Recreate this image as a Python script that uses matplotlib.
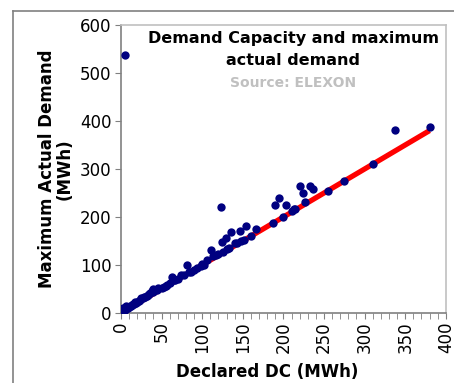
import matplotlib
matplotlib.use("Agg")
import matplotlib.pyplot as plt
from matplotlib.lines import Line2D

# declared DC vs maximum actual demand (MWh)
declared_dc = [5, 380, 338, 310, 275, 255, 236, 233, 227, 224, 221, 213, 210,
               203, 200, 195, 190, 187, 166, 160, 154, 148, 146, 140, 136, 133,
               129, 126, 124, 123, 117, 113, 111, 106, 102, 98, 94, 90, 86, 81,
               78, 74, 70, 65, 63, 60, 55, 50, 46, 42, 40, 38, 35, 32, 30, 27,
               24, 22, 20, 18, 15, 12, 10, 8, 6, 5, 3, 2, 1, 0, 0, 36, 44, 28,
               16, 13, 9, 4, 57, 53, 67, 84, 100, 120, 131, 143, 151, 214,
               25, 33, 39, 17, 11, 7, 2, 1]
max_demand = [537, 387, 381, 311, 276, 255, 259, 265, 232, 249, 265, 217, 213,
              225, 201, 239, 224, 187, 175, 160, 181, 150, 170, 145, 168, 135,
              157, 128, 147, 220, 120, 118, 131, 110, 100, 98, 93, 90, 86, 99,
              80, 80, 71, 68, 76, 62, 56, 53, 52, 48, 50, 45, 40, 36, 34, 31,
              28, 25, 23, 20, 18, 15, 12, 10, 14, 7, 5, 10, 3, 1, 5, 42, 47, 33,
              19, 16, 11, 6, 58, 54, 69, 86, 102, 122, 133, 146, 153, 216,
              32, 38, 44, 22, 15, 11, 6, 8]
fit_x = [0, 380]
fit_y = [0, 380]

fig = plt.figure(figsize=(4.54, 3.83), dpi=100)
ax = fig.add_axes([0.2665, 0.1828, 0.7155, 0.752])

ax.plot(fit_x, fit_y, color="#ff0000", lw=3.8, solid_capstyle="butt", zorder=2)
ax.scatter(declared_dc, max_demand, s=36, color="#000080", zorder=3, linewidths=0)

ax.set_xlim(0, 400)
ax.set_ylim(0, 600)
ax.set_xticks(range(0, 401, 50))
ax.set_xticks(range(0, 401, 10), minor=True)
ax.set_yticks(range(0, 601, 100))
ax.tick_params(axis="x", which="both", direction="out", length=4, color="#808080",
               labelsize=12, labelrotation=90, pad=2)
ax.tick_params(axis="y", direction="out", length=4, color="#808080", labelsize=12, pad=3)

for side in ["left", "bottom"]:
    ax.spines[side].set_color("#808080")
    ax.spines[side].set_linewidth(1.2)
for side in ["top", "right"]:
    ax.spines[side].set_color("#c0c0c0")
    ax.spines[side].set_linewidth(1.2)

ax.set_xlabel("Declared DC (MWh)", fontsize=12, fontweight="bold")
ax.xaxis.set_label_coords(0.45, -0.175)
ax.set_ylabel("Maximum Actual Demand\n(MWh)", fontsize=12, fontweight="bold",
              labelpad=4, linespacing=1.0)

ax.text(0.53, 0.98, "Demand Capacity and maximum\nactual demand", transform=ax.transAxes,
        ha="center", va="top", fontsize=11.5, fontweight="bold", linespacing=1.6)
ax.text(0.53, 0.80, "Source: ELEXON", transform=ax.transAxes, ha="center", va="center",
        fontsize=10, fontweight="bold", color="#c0c0c0")

# outer chart frame
fig.add_artist(Line2D([13 / 454, 13 / 454], [0, 1 - 11 / 383], color="#808080", lw=1.2))
fig.add_artist(Line2D([13 / 454, 1], [1 - 11 / 383, 1 - 11 / 383], color="#808080", lw=1.2))

fig.savefig("out.png", dpi=100)
